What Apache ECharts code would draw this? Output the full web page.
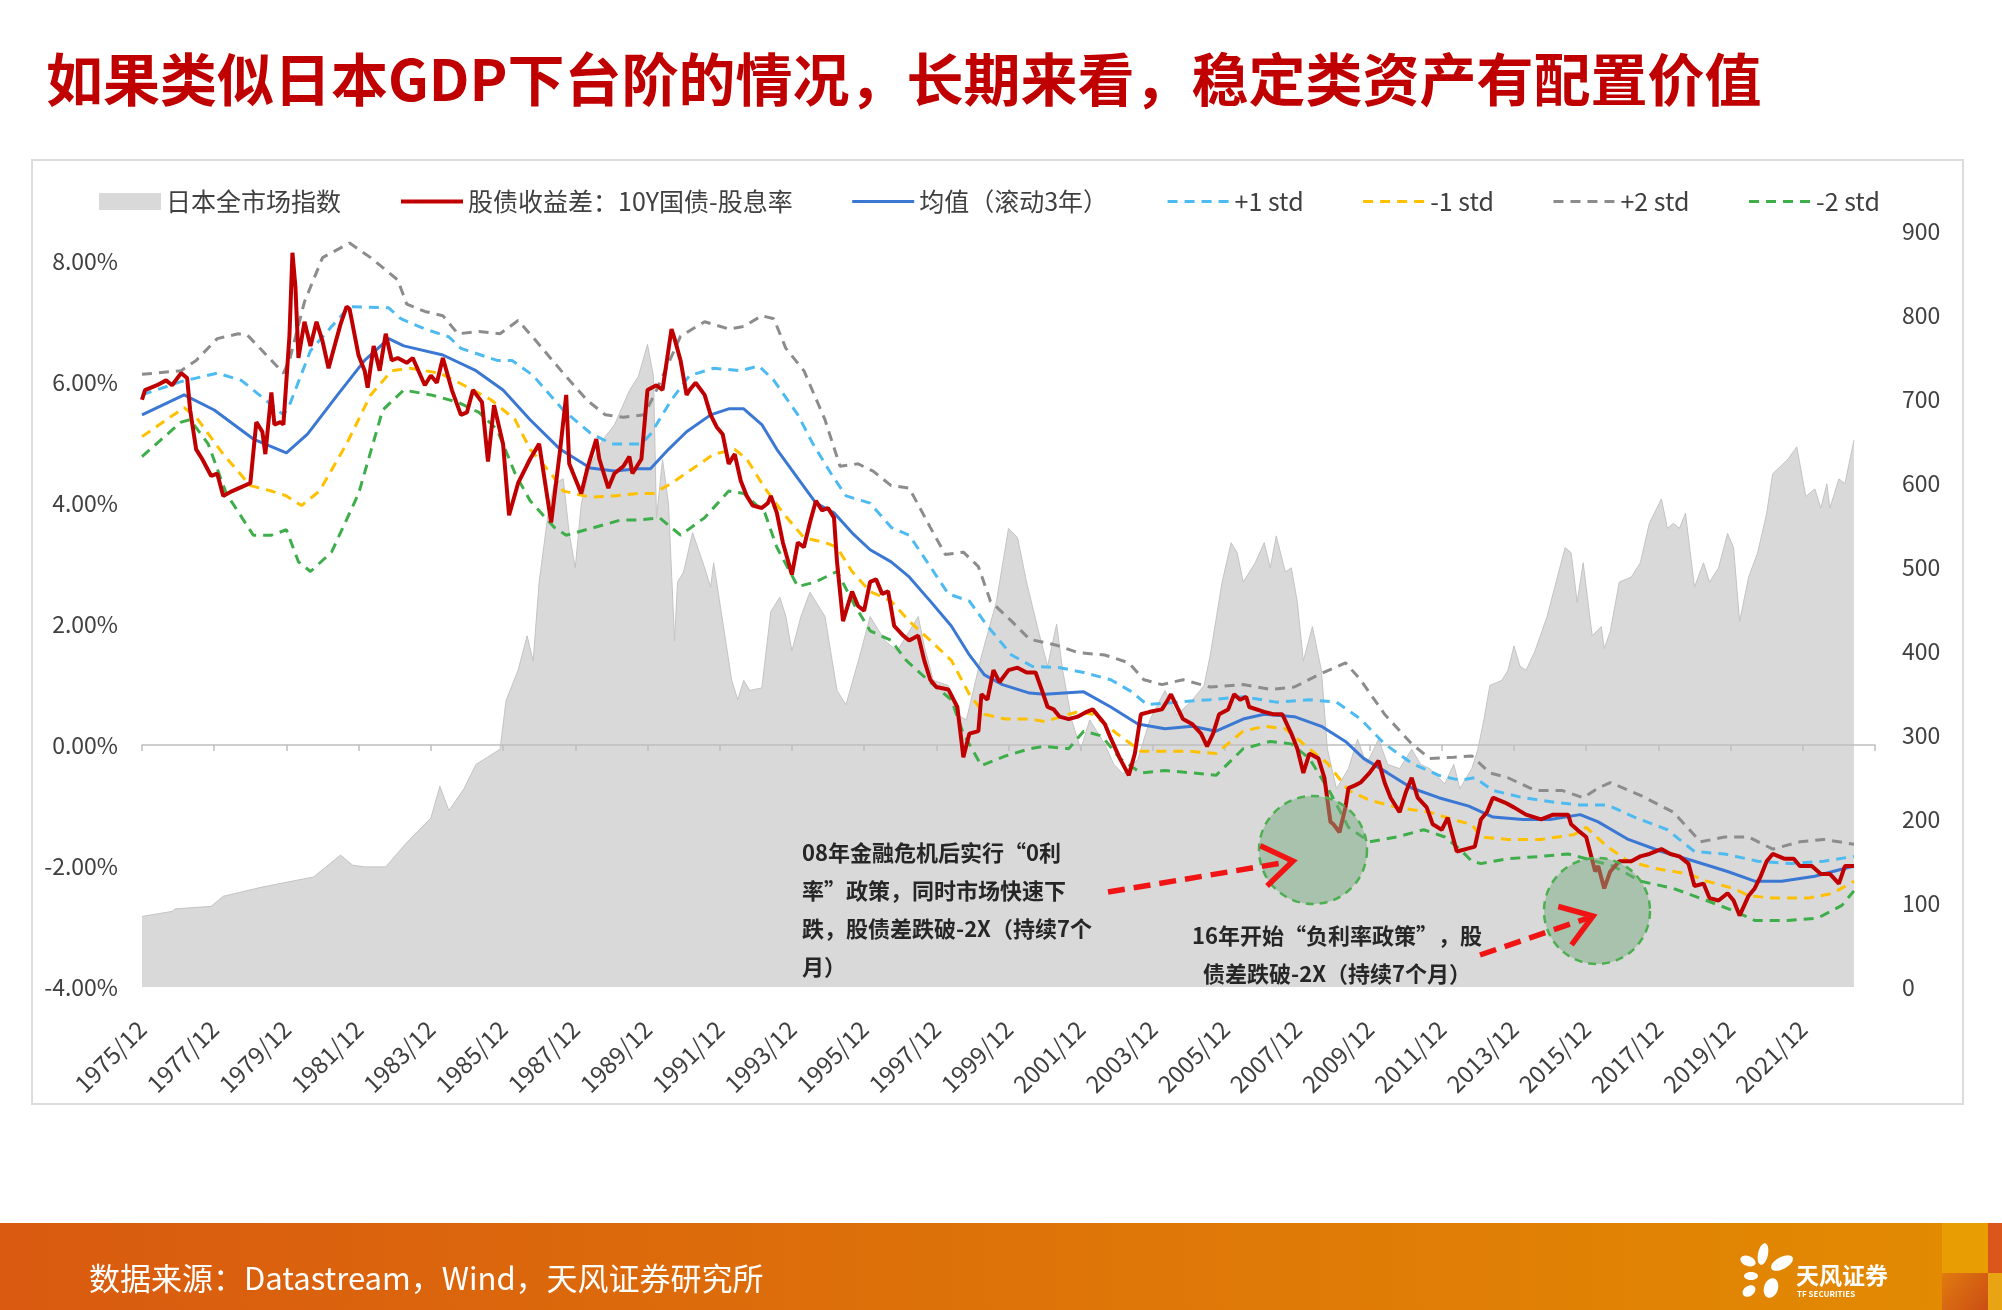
<!DOCTYPE html>
<html><head><meta charset="utf-8">
<script src="https://cdn.jsdelivr.net/npm/echarts@6/dist/echarts.min.js"></script>
<style>html,body{margin:0;padding:0;background:#fff;}#c{width:2002px;height:1310px;}</style>
</head><body><div id="c"></div>
<script>
const FONT = '"Noto Sans CJK SC","Noto Sans",sans-serif';

// monthly categories 1975/12 .. 2023/12
const categories = [];
for (let y = 1975, m = 12; y < 2023 || (y === 2023 && m <= 12);) {
  categories.push(y + '/' + String(m).padStart(2, '0'));
  m++; if (m > 12) { m = 1; y++; }
}

const seriesNames = ['日本全市场指数', '股债收益差：10Y国债-股息率', '均值（滚动3年）', '+1 std', '-1 std', '+2 std', '-2 std'];

// 日本全市场指数 (right axis)
const indexData = [['1975/12',84],['1976/10',90],['1976/11',93],['1977/11',96],['1978/03',108],['1979/04',119],['1980/09',131],['1981/06',157],['1981/10',145],['1982/02',143],['1982/09',143],['1983/04',172],['1983/12',201],['1984/03',239],['1984/06',210],['1984/11',236],['1985/03',265],['1985/11',283],['1986/01',341],['1986/05',377],['1986/08',418],['1986/10',388],['1986/12',482],['1987/03',564],['1987/05',599],['1987/08',605],['1987/10',540],['1987/12',499],['1988/02',575],['1988/05',620],['1988/09',651],['1989/01',669],['1989/06',710],['1989/09',727],['1989/12',765],['1990/02',727],['1990/03',558],['1990/05',628],['1990/07',575],['1990/09',412],['1990/10',482],['1990/12',494],['1991/03',541],['1991/07',499],['1991/09',476],['1991/10',505],['1992/01',435],['1992/04',365],['1992/06',342],['1992/08',365],['1992/10',353],['1993/02',356],['1993/05',447],['1993/08',464],['1993/10',441],['1993/12',400],['1994/03',441],['1994/06',470],['1994/11',441],['1995/03',353],['1995/06',336],['1995/11',400],['1996/02',441],['1996/07',412],['1996/11',400],['1997/06',441],['1997/08',406],['1997/11',365],['1998/04',359],['1998/07',324],['1998/10',318],['1999/03',394],['1999/08',459],['1999/12',546],['2000/03',535],['2000/06',482],['2000/10',423],['2001/01',382],['2001/04',432],['2001/06',377],['2001/09',318],['2001/12',283],['2002/03',318],['2002/08',289],['2002/11',265],['2003/02',254],['2003/07',271],['2003/11',318],['2004/04',353],['2004/08',324],['2005/01',341],['2005/05',359],['2005/07',394],['2005/11',482],['2006/02',529],['2006/04',517],['2006/06',482],['2006/10',505],['2007/01',529],['2007/03',499],['2007/05',537],['2007/08',494],['2007/10',499],['2007/12',458],['2008/02',388],['2008/05',429],['2008/08',377],['2008/10',283],['2009/01',236],['2009/05',260],['2009/08',295],['2009/11',265],['2010/03',295],['2010/06',265],['2010/10',260],['2011/02',283],['2011/05',265],['2011/08',260],['2012/01',242],['2012/04',265],['2012/06',236],['2012/10',260],['2012/12',283],['2013/02',318],['2013/04',359],['2013/08',365],['2013/10',377],['2013/12',406],['2014/02',382],['2014/04',377],['2014/07',400],['2014/11',441],['2015/02',482],['2015/05',523],['2015/07',517],['2015/09',458],['2015/11',505],['2016/02',418],['2016/05',429],['2016/06',403],['2016/08',423],['2016/11',482],['2017/03',488],['2017/06',505],['2017/09',552],['2018/01',581],['2018/03',546],['2018/05',552],['2018/07',546],['2018/09',564],['2018/12',476],['2019/03',505],['2019/05',482],['2019/08',499],['2019/11',540],['2020/01',523],['2020/03',435],['2020/06',488],['2020/09',517],['2020/12',564],['2021/02',611],['2021/07',628],['2021/10',643],['2022/01',584],['2022/04',593],['2022/06',570],['2022/08',599],['2022/09',570],['2022/12',605],['2023/02',599],['2023/05',651]];

// 股债收益差 (%)
const spreadData = [['1975/12',5.71],['1976/01',5.87],['1976/05',5.95],['1976/08',6.03],['1976/10',5.95],['1977/01',6.15],['1977/03',6.07],['1977/04',5.54],['1977/06',4.89],['1977/08',4.73],['1977/11',4.45],['1978/01',4.49],['1978/03',4.12],['1978/06',4.20],['1978/12',4.33],['1979/02',5.34],['1979/04',5.18],['1979/05',4.81],['1979/07',5.83],['1979/08',5.30],['1979/10',5.34],['1979/11',5.30],['1980/01',6.76],['1980/02',8.14],['1980/03',7.57],['1980/04',6.40],['1980/06',7.00],['1980/08',6.60],['1980/10',7.00],['1980/12',6.68],['1981/02',6.23],['1981/04',6.60],['1981/06',6.96],['1981/08',7.25],['1981/09',7.21],['1981/12',6.44],['1982/02',6.19],['1982/03',5.91],['1982/05',6.60],['1982/07',6.19],['1982/09',6.80],['1982/11',6.36],['1983/01',6.40],['1983/04',6.32],['1983/06',6.40],['1983/10',5.95],['1983/12',6.11],['1984/02',5.99],['1984/04',6.40],['1984/07',5.87],['1984/10',5.46],['1984/12',5.50],['1985/02',5.87],['1985/05',5.67],['1985/07',4.69],['1985/09',5.62],['1985/12',4.98],['1986/02',3.80],['1986/05',4.33],['1986/09',4.73],['1986/12',4.98],['1987/02',4.33],['1987/04',3.68],['1987/07',4.89],['1987/09',5.79],['1987/10',4.65],['1988/02',4.16],['1988/04',4.57],['1988/07',5.06],['1988/08',4.73],['1988/11',4.25],['1989/01',4.49],['1989/04',4.61],['1989/06',4.77],['1989/07',4.49],['1989/10',4.73],['1989/12',5.87],['1990/03',5.95],['1990/05',5.87],['1990/08',6.88],['1990/09',6.72],['1990/11',6.36],['1991/01',5.79],['1991/02',5.87],['1991/04',5.99],['1991/07',5.79],['1991/09',5.46],['1991/11',5.26],['1992/01',5.14],['1992/03',4.65],['1992/05',4.81],['1992/07',4.37],['1992/09',4.12],['1992/11',3.96],['1993/02',3.92],['1993/04',4.00],['1993/05',4.12],['1993/07',3.84],['1993/09',3.35],['1993/12',2.82],['1994/02',3.35],['1994/04',3.27],['1994/06',3.68],['1994/08',4.04],['1994/10',3.88],['1994/12',3.92],['1995/02',3.76],['1995/03',3.03],['1995/05',2.05],['1995/08',2.54],['1995/10',2.30],['1995/12',2.22],['1996/02',2.70],['1996/04',2.74],['1996/06',2.50],['1996/08',2.54],['1996/10',1.97],['1997/01',1.81],['1997/03',1.73],['1997/06',1.81],['1997/08',1.40],['1997/10',1.08],['1997/12',0.96],['1998/04',0.92],['1998/07',0.63],['1998/09',-0.20],['1998/11',0.19],['1999/02',0.23],['1999/03',0.84],['1999/05',0.75],['1999/07',1.24],['1999/09',1.04],['1999/12',1.24],['2000/03',1.28],['2000/06',1.20],['2000/09',1.20],['2000/11',0.92],['2001/01',0.63],['2001/03',0.59],['2001/05',0.47],['2001/08',0.43],['2001/11',0.47],['2002/02',0.55],['2002/04',0.59],['2002/08',0.35],['2002/10',0.11],['2003/01',-0.22],['2003/04',-0.50],['2003/06',-0.14],['2003/08',0.51],['2003/11',0.55],['2004/03',0.59],['2004/05',0.75],['2004/06',0.84],['2004/08',0.63],['2004/10',0.43],['2005/01',0.35],['2005/04',0.19],['2005/06',-0.02],['2005/08',0.19],['2005/10',0.51],['2006/01',0.59],['2006/03',0.84],['2006/05',0.75],['2006/07',0.80],['2006/08',0.63],['2007/01',0.55],['2007/04',0.51],['2007/07',0.51],['2007/10',0.19],['2007/12',-0.06],['2008/02',-0.46],['2008/04',-0.14],['2008/07',-0.22],['2008/09',-0.54],['2008/11',-1.27],['2008/12',-1.31],['2009/02',-1.44],['2009/04',-1.03],['2009/05',-0.71],['2009/07',-0.67],['2009/09',-0.62],['2009/12',-0.46],['2010/03',-0.26],['2010/05',-0.62],['2010/07',-0.87],['2010/10',-1.11],['2010/12',-0.79],['2011/02',-0.54],['2011/04',-0.87],['2011/07',-1.03],['2011/09',-1.31],['2011/12',-1.40],['2012/02',-1.20],['2012/05',-1.76],['2012/08',-1.72],['2012/11',-1.68],['2013/01',-1.23],['2013/03',-1.11],['2013/05',-0.87],['2013/09',-0.95],['2013/12',-1.03],['2014/04',-1.15],['2014/09',-1.23],['2015/01',-1.15],['2015/06',-1.15],['2015/07',-1.31],['2015/10',-1.44],['2015/12',-1.52],['2016/03',-2.09],['2016/04',-2.00],['2016/06',-2.37],['2016/08',-2.09],['2016/11',-1.92],['2017/03',-1.92],['2017/06',-1.84],['2017/09',-1.80],['2018/01',-1.72],['2018/04',-1.80],['2018/07',-1.84],['2018/10',-1.96],['2018/12',-2.33],['2019/03',-2.29],['2019/05',-2.53],['2019/08',-2.57],['2019/11',-2.45],['2020/01',-2.57],['2020/03',-2.82],['2020/06',-2.49],['2020/08',-2.37],['2020/10',-2.17],['2020/12',-1.92],['2021/02',-1.80],['2021/06',-1.88],['2021/09',-1.88],['2021/11',-2.00],['2022/03',-2.00],['2022/06',-2.13],['2022/09',-2.13],['2022/12',-2.29],['2023/02',-2.00],['2023/05',-2.00]];

// 均值（滚动3年）
const meanData = [['1975/12',5.46],['1977/02',5.79],['1977/12',5.54],['1979/01',5.06],['1979/12',4.83],['1980/07',5.14],['1981/05',5.79],['1982/02',6.36],['1982/10',6.72],['1983/03',6.60],['1984/04',6.45],['1985/03',6.19],['1985/12',5.87],['1986/09',5.38],['1987/07',4.89],['1988/05',4.58],['1989/01',4.53],['1989/09',4.57],['1990/01',4.57],['1990/07',4.89],['1991/01',5.18],['1991/09',5.46],['1992/03',5.56],['1992/08',5.56],['1993/02',5.30],['1993/07',4.89],['1994/02',4.41],['1994/08',4.00],['1995/02',3.84],['1995/08',3.51],['1996/02',3.23],['1996/09',3.03],['1997/03',2.78],['1997/10',2.38],['1998/05',1.97],['1998/11',1.49],['1999/04',1.16],['1999/10',1.00],['2000/07',0.86],['2000/12',0.84],['2002/01',0.88],['2002/10',0.63],['2003/07',0.35],['2004/04',0.27],['2005/01',0.31],['2005/09',0.23],['2006/06',0.43],['2007/01',0.51],['2007/11',0.47],['2008/08',0.31],['2009/04',0.06],['2009/10',-0.22],['2010/06',-0.46],['2011/02',-0.71],['2011/11',-0.87],['2012/09',-1.01],['2013/05',-1.19],['2014/03',-1.23],['2014/12',-1.23],['2015/10',-1.15],['2016/04',-1.27],['2017/02',-1.56],['2018/01',-1.76],['2018/12',-1.92],['2019/11',-2.09],['2020/08',-2.25],['2021/05',-2.25],['2022/04',-2.17],['2023/05',-2.00]];

// +1 std
const plus1Data = [['1975/12',5.79],['1977/01',6.01],['1978/01',6.15],['1978/09',6.03],['1979/04',5.75],['1979/11',5.46],['1980/01',5.62],['1980/08',6.52],['1981/03',6.92],['1981/09',7.25],['1982/10',7.23],['1983/02',7.05],['1983/10',6.88],['1984/06',6.75],['1984/10',6.56],['1985/10',6.36],['1986/03',6.36],['1986/10',6.11],['1987/08',5.54],['1988/05',5.16],['1988/12',4.98],['1989/10',4.98],['1990/01',5.14],['1990/08',5.71],['1991/02',6.11],['1991/10',6.23],['1992/07',6.19],['1993/01',6.27],['1993/06',6.03],['1994/02',5.46],['1994/07',4.98],['1995/01',4.49],['1995/06',4.12],['1996/02',4.00],['1996/09',3.60],['1997/03',3.47],['1997/10',2.95],['1998/04',2.50],['1998/11',2.38],['1999/05',1.97],['2000/01',1.49],['2000/08',1.30],['2001/05',1.28],['2002/01',1.20],['2002/10',1.08],['2003/05',0.88],['2003/10',0.67],['2004/08',0.71],['2005/07',0.75],['2006/06',0.80],['2007/05',0.71],['2008/04',0.75],['2009/01',0.71],['2009/09',0.43],['2010/05',0.02],['2011/02',-0.30],['2011/11',-0.50],['2012/06',-0.58],['2012/11',-0.54],['2013/05',-0.75],['2014/03',-0.87],['2015/02',-0.95],['2015/10',-0.99],['2016/07',-0.99],['2017/04',-1.19],['2018/03',-1.40],['2018/12',-1.76],['2019/10',-1.80],['2020/09',-1.92],['2021/08',-1.96],['2022/07',-1.92],['2023/05',-1.84]];

// -1 std
const minus1Data = [['1975/12',5.10],['1977/02',5.58],['1977/06',5.42],['1978/03',4.81],['1978/12',4.29],['1979/07',4.20],['1979/12',4.12],['1980/05',3.96],['1980/11',4.20],['1981/08',4.98],['1982/04',5.79],['1982/11',6.19],['1983/05',6.23],['1984/03',6.15],['1984/11',5.95],['1985/08',5.71],['1986/04',5.38],['1986/09',4.89],['1987/04',4.49],['1987/08',4.20],['1988/05',4.10],['1989/01',4.12],['1989/09',4.16],['1990/02',4.16],['1990/08',4.33],['1991/03',4.57],['1991/10',4.81],['1992/05',4.89],['1992/09',4.73],['1993/03',4.25],['1993/09',3.84],['1994/04',3.43],['1994/11',3.35],['1995/03',3.27],['1995/08',2.87],['1996/02',2.54],['1996/09',2.38],['1997/03',2.05],['1997/10',1.73],['1998/05',1.40],['1998/11',0.84],['1999/04',0.51],['1999/11',0.43],['2000/07',0.43],['2000/12',0.39],['2001/11',0.55],['2002/04',0.51],['2002/12',0.19],['2003/08',-0.10],['2004/12',-0.10],['2005/09',-0.14],['2006/06',0.23],['2007/01',0.31],['2007/08',0.27],['2008/02',0.02],['2008/10',-0.30],['2009/05',-0.75],['2009/12',-0.91],['2010/09',-1.03],['2011/08',-1.11],['2012/05',-1.25],['2012/10',-1.31],['2013/01',-1.52],['2013/10',-1.56],['2014/09',-1.56],['2015/08',-1.48],['2015/12',-1.36],['2016/07',-1.68],['2017/02',-1.92],['2017/12',-2.05],['2018/10',-2.13],['2019/04',-2.25],['2020/01',-2.37],['2020/06',-2.49],['2021/02',-2.53],['2022/02',-2.53],['2022/10',-2.45],['2023/05',-2.25]];

// +2 std
const plus2Data = [['1975/12',6.13],['1977/01',6.19],['1977/06',6.36],['1978/01',6.72],['1978/08',6.80],['1978/11',6.78],['1979/04',6.52],['1979/11',6.15],['1980/01',6.36],['1980/06',7.33],['1980/12',8.06],['1981/09',8.30],['1982/04',8.06],['1983/01',7.69],['1983/04',7.29],['1983/10',7.17],['1984/04',7.10],['1984/09',6.80],['1985/04',6.84],['1985/11',6.80],['1986/05',7.02],['1986/11',6.68],['1987/08',6.15],['1988/04',5.70],['1988/10',5.46],['1989/04',5.42],['1989/11',5.46],['1990/03',5.87],['1990/11',6.76],['1991/07',7.00],['1992/03',6.88],['1992/08',6.92],['1993/02',7.10],['1993/06',7.05],['1993/10',6.56],['1994/04',6.19],['1994/11',5.38],['1995/04',4.61],['1995/10',4.65],['1996/03',4.53],['1996/09',4.29],['1997/03',4.25],['1997/10',3.60],['1998/03',3.15],['1998/09',3.19],['1999/02',2.95],['1999/06',2.38],['2000/01',2.05],['2000/07',1.75],['2001/04',1.65],['2001/11',1.53],['2002/08',1.49],['2003/04',1.36],['2003/09',1.08],['2004/03',1.00],['2004/10',1.08],['2005/07',0.96],['2006/06',1.00],['2007/03',0.92],['2007/11',0.96],['2008/07',1.16],['2009/04',1.36],['2009/09',1.08],['2010/05',0.51],['2011/02',0.02],['2011/08',-0.22],['2012/04',-0.20],['2012/10',-0.18],['2013/04',-0.46],['2013/10',-0.54],['2014/07',-0.75],['2015/04',-0.75],['2015/11',-0.87],['2016/04',-0.71],['2016/08',-0.62],['2017/06',-0.83],['2018/05',-1.11],['2019/02',-1.60],['2019/10',-1.52],['2020/06',-1.52],['2021/02',-1.72],['2021/11',-1.60],['2022/07',-1.56],['2023/05',-1.64]];

// -2 std
const minus2Data = [['1975/12',4.77],['1977/01',5.34],['1977/04',5.38],['1977/10',4.98],['1978/04',4.16],['1979/01',3.47],['1979/07',3.47],['1979/12',3.56],['1980/04',3.03],['1980/08',2.87],['1981/03',3.19],['1981/12',4.16],['1982/08',5.54],['1983/03',5.87],['1983/12',5.79],['1984/09',5.67],['1985/04',5.50],['1985/10',5.22],['1986/04',4.49],['1986/09',4.04],['1987/05',3.60],['1987/09',3.47],['1988/05',3.58],['1989/03',3.72],['1989/09',3.72],['1990/04',3.76],['1990/11',3.47],['1991/07',3.76],['1992/03',4.20],['1992/08',4.16],['1993/03',3.84],['1993/07',3.27],['1994/02',2.62],['1994/08',2.70],['1995/03',2.87],['1995/09',2.30],['1996/02',1.89],['1996/09',1.73],['1997/02',1.40],['1997/10',1.04],['1998/05',0.75],['1998/09',0.19],['1999/03',-0.34],['1999/11',-0.18],['2000/07',-0.06],['2000/12',-0.02],['2001/08',-0.06],['2002/01',0.23],['2002/07',0.15],['2003/01',-0.22],['2003/08',-0.46],['2004/04',-0.42],['2005/01',-0.46],['2005/09',-0.50],['2006/06',-0.06],['2007/03',0.06],['2007/10',0.02],['2008/04',-0.22],['2008/11',-0.79],['2009/05',-1.36],['2009/12',-1.60],['2010/09',-1.52],['2011/06',-1.40],['2012/01',-1.52],['2012/06',-1.72],['2012/10',-1.92],['2013/01',-1.96],['2013/10',-1.88],['2014/09',-1.84],['2015/06',-1.80],['2015/12',-1.88],['2016/09',-2.00],['2017/06',-2.25],['2018/05',-2.37],['2019/04',-2.57],['2020/01',-2.74],['2020/08',-2.90],['2021/07',-2.90],['2022/05',-2.86],['2023/01',-2.65],['2023/05',-2.41]];

const leftTicks = { min: -4, max: 8.5, interval: 2 };
const rightTicks = { min: 0, max: 900, interval: 100 };

function arrowHead(x1, y1, x2, y2, len, ang) {
  const a = Math.atan2(y2 - y1, x2 - x1);
  return [
    [x2 - len * Math.cos(a - ang), y2 - len * Math.sin(a - ang)],
    [x2, y2],
    [x2 - len * Math.cos(a + ang), y2 - len * Math.sin(a + ang)]
  ];
}

const chart = echarts.init(document.getElementById('c'), null, { renderer: 'canvas' });
const dashed = [10, 7];
const lineSeries = (name, data, color, width, type, z) => ({
  name, type: 'line', data, symbol: 'none', z,
  lineStyle: { color, width, type },
  itemStyle: { color }
});
const noDot = { opacity: 0 };

const option = {
  backgroundColor: '#ffffff',
  animation: false,
  textStyle: { fontFamily: FONT },
  grid: { left: 142, right: 127, top: 231, bottom: 323 },
  legend: {
    top: 184, left: 94, itemWidth: 62, itemHeight: 17, itemGap: 58,
    lineStyle: { width: 'inherit' },
    textStyle: { fontSize: 25, color: '#404040', fontFamily: FONT },
    data: [
      { name: seriesNames[0], icon: 'rect' },
      { name: seriesNames[1], itemStyle: noDot },
      { name: seriesNames[2], itemStyle: noDot },
      { name: seriesNames[3], itemStyle: noDot },
      { name: seriesNames[4], itemStyle: noDot },
      { name: seriesNames[5], itemStyle: noDot },
      { name: seriesNames[6], itemStyle: noDot }
    ]
  },
  xAxis: [
    {
      type: 'category', data: categories, boundaryGap: false, z: 2,
      axisLine: { onZero: true, onZeroAxisIndex: 0, lineStyle: { color: '#BFBFBF', width: 1.5 } },
      axisTick: { show: true, interval: 23, length: 6, lineStyle: { color: '#BFBFBF', width: 1.5 } },
      axisLabel: { show: false }, splitLine: { show: false }
    },
    {
      type: 'category', data: categories, boundaryGap: false, position: 'bottom',
      axisLine: { show: false, onZero: false }, axisTick: { show: false }, splitLine: { show: false },
      axisLabel: {
        interval: (i) => i % 24 === 0 && i < categories.length - 1,
        rotate: 45, fontSize: 24, color: '#404040', margin: 38, fontFamily: FONT
      }
    }
  ],
  yAxis: [
    {
      type: 'value', position: 'left', min: leftTicks.min, max: leftTicks.max, interval: leftTicks.interval,
      axisLine: { show: false }, axisTick: { show: false }, splitLine: { show: false },
      axisLabel: {
        fontSize: 23, color: '#404040', margin: 24, fontFamily: FONT,
        formatter: (v) => (Math.abs(v % 2) < 1e-9 ? v.toFixed(2) + '%' : '')
      }
    },
    {
      type: 'value', position: 'right', min: rightTicks.min, max: rightTicks.max, interval: rightTicks.interval,
      axisLine: { show: false }, axisTick: { show: false }, splitLine: { show: false },
      axisLabel: { fontSize: 23, color: '#404040', margin: 27, fontFamily: FONT }
    }
  ],
  series: [
    {
      name: seriesNames[0], type: 'line', yAxisIndex: 1, data: indexData, symbol: 'none', z: 1,
      lineStyle: { color: '#C4C4C4', width: 1 }, itemStyle: { color: '#D9D9D9' },
      areaStyle: { color: '#D9D9D9', opacity: 1 }
    },
    lineSeries(seriesNames[1], spreadData, '#C00000', 4, 'solid', 10),
    lineSeries(seriesNames[2], meanData, '#3B78D4', 3, 'solid', 9),
    lineSeries(seriesNames[3], plus1Data, '#4DBBF2', 3, dashed, 5),
    lineSeries(seriesNames[4], minus1Data, '#FFC000', 3, dashed, 5),
    lineSeries(seriesNames[5], plus2Data, '#8C8C8C', 3, dashed, 5),
    lineSeries(seriesNames[6], minus2Data, '#3DAE4A', 3, dashed, 5)
  ],
  graphic: [
    { type: 'rect', z: 0, shape: { x: 32, y: 160, width: 1931, height: 944 }, style: { fill: 'none', stroke: '#DCDCDC', lineWidth: 2 } },
    { type: 'text', z: 50, x: 46, y: 79, style: { text: '如果类似日本GDP下台阶的情况，长期来看，稳定类资产有配置价值', font: 'bold 57px ' + FONT, fill: '#C00000', verticalAlign: 'middle' } },
    // footer
    { type: 'rect', z: 0, shape: { x: 0, y: 1223, width: 1942, height: 87 }, style: { fill: new echarts.graphic.LinearGradient(0, 0, 1, 0, [{ offset: 0, color: '#D95A10' }, { offset: 1, color: '#E28A02' }]) } },
    { type: 'rect', z: 0, shape: { x: 1942, y: 1223, width: 46, height: 50 }, style: { fill: '#E89D02' } },
    { type: 'rect', z: 0, shape: { x: 1988, y: 1223, width: 14, height: 50 }, style: { fill: '#DA561A' } },
    { type: 'rect', z: 0, shape: { x: 1942, y: 1273, width: 46, height: 37 }, style: { fill: new echarts.graphic.LinearGradient(0, 0, 1, 1, [{ offset: 0, color: '#E07A10' }, { offset: 1, color: '#CC4E14' }]) } },
    { type: 'rect', z: 0, shape: { x: 1988, y: 1273, width: 14, height: 37 }, style: { fill: '#E8A412' } },
    { type: 'text', z: 5, x: 89, y: 1278, style: { text: '数据来源：Datastream，Wind，天风证券研究所', font: '31px ' + FONT, fill: '#ffffff', verticalAlign: 'middle' } },
    // logo petals
    { type: 'ellipse', z: 5, x: 1763, y: 1254, rotation: -0.2, shape: { cx: 0, cy: 0, rx: 5, ry: 11 }, style: { fill: '#ffffff' } },
    { type: 'ellipse', z: 5, x: 1782, y: 1263, rotation: 0.5, shape: { cx: 0, cy: 0, rx: 12, ry: 6 }, style: { fill: '#ffffff' } },
    { type: 'ellipse', z: 5, x: 1748, y: 1261, rotation: -0.4, shape: { cx: 0, cy: 0, rx: 8, ry: 5 }, style: { fill: '#ffffff' } },
    { type: 'ellipse', z: 5, x: 1751, y: 1276, rotation: 0, shape: { cx: 0, cy: 0, rx: 7, ry: 4 }, style: { fill: '#ffffff' } },
    { type: 'ellipse', z: 5, x: 1749, y: 1291, rotation: 0.6, shape: { cx: 0, cy: 0, rx: 7, ry: 5 }, style: { fill: '#ffffff' } },
    { type: 'ellipse', z: 5, x: 1771, y: 1288, rotation: -0.3, shape: { cx: 0, cy: 0, rx: 7, ry: 10 }, style: { fill: '#ffffff' } },
    { type: 'text', z: 5, x: 1796, y: 1275, style: { text: '天风证券', font: 'bold 23px ' + FONT, fill: '#ffffff', verticalAlign: 'middle' } },
    { type: 'text', z: 5, x: 1797, y: 1294, style: { text: 'TF SECURITIES', font: 'bold 8px ' + FONT, fill: '#ffffff', verticalAlign: 'middle' } },
    // annotations
    { type: 'circle', z: 60, shape: { cx: 1313, cy: 850, r: 54 }, style: { fill: 'rgba(121,171,129,0.5)', stroke: '#4CAF50', lineWidth: 2.5, lineDash: [8, 6] } },
    { type: 'circle', z: 60, shape: { cx: 1597, cy: 911, r: 53 }, style: { fill: 'rgba(121,171,129,0.5)', stroke: '#4CAF50', lineWidth: 2.5, lineDash: [8, 6] } },
    { type: 'line', z: 61, shape: { x1: 1108, y1: 892, x2: 1288, y2: 862 }, style: { stroke: '#F01414', lineWidth: 5.5, lineDash: [17, 9] } },
    { type: 'polyline', z: 61, shape: { points: arrowHead(1108, 892, 1293, 861, 36, 0.6) }, style: { stroke: '#F01414', lineWidth: 5.5, fill: 'none' } },
    { type: 'line', z: 61, shape: { x1: 1480, y1: 955, x2: 1588, y2: 918 }, style: { stroke: '#F01414', lineWidth: 5.5, lineDash: [17, 9] } },
    { type: 'polyline', z: 61, shape: { points: arrowHead(1480, 955, 1593, 916, 36, 0.6) }, style: { stroke: '#F01414', lineWidth: 5.5, fill: 'none' } },
    { type: 'text', z: 62, x: 802, y: 834, style: { text: '08年金融危机后实行“0利\n率”政策，同时市场快速下\n跌，股债差跌破-2X（持续7个\n月）', font: 'bold 22px ' + FONT, lineHeight: 38, fill: '#262626', verticalAlign: 'top' } },
    { type: 'text', z: 62, x: 1337, y: 917, style: { text: '16年开始“负利率政策”，股\n债差跌破-2X（持续7个月）', font: 'bold 22px ' + FONT, lineHeight: 38, fill: '#262626', align: 'center', verticalAlign: 'top' } }
  ]
};
chart.setOption(option);
</script>
</body></html>
